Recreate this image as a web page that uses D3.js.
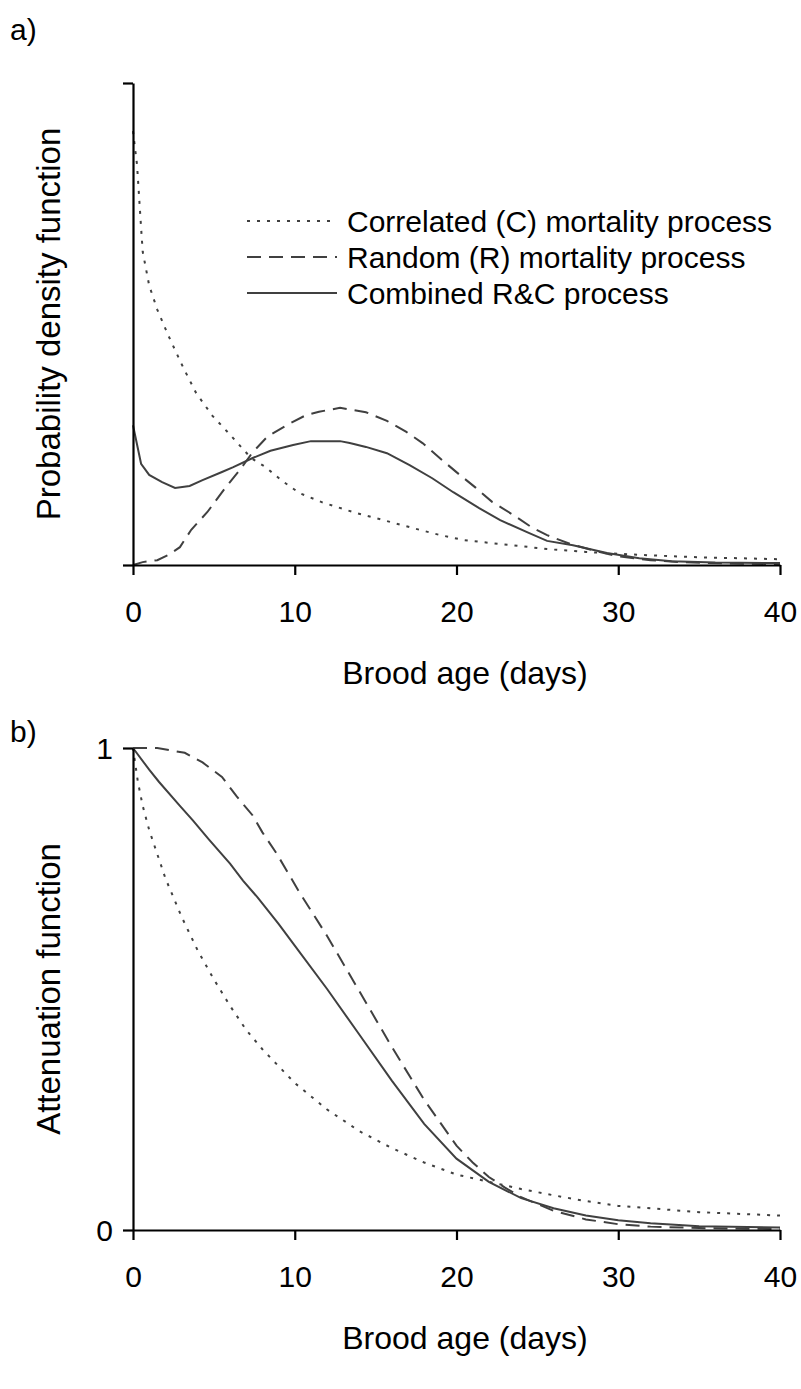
<!DOCTYPE html>
<html>
<head>
<meta charset="utf-8">
<script src="https://cdn.jsdelivr.net/npm/d3@7/dist/d3.min.js"></script>
<style>
  body { margin: 0; background: #fff; }
  text { font-family: "Liberation Sans", Arial, sans-serif; fill: #000; }
</style>
</head>
<body>
<div id="chart"></div>
<script>

// ---- data (day, value) ----
// panel a: probability density, y axis runs 0..1 (arbitrary units)
var pdfCorrelated = [[0,0.90],[0.25,0.83],[0.5,0.70],[0.6,0.65],[1,0.58],[1.5,0.53],[2.2,0.475],[3.1,0.41],[3.9,0.357],
    [4.9,0.31],[5.9,0.274],[7.3,0.222],[8.2,0.203],[9.2,0.175],[10.3,0.149],[11.7,0.13],[13.2,0.114],[13.8,0.108],
    [15.6,0.092],[17.5,0.075],[19,0.062],[20.4,0.052],[22,0.046],[23.5,0.041],[25.6,0.033],[28,0.027],[31.3,0.021],
    [35,0.016],[40,0.012]];
var pdfRandom = [[0,0.0],[0.6,0.006],[1.5,0.01],[2.2,0.021],[2.9,0.037],[3.6,0.073],[4.6,0.11],[5.7,0.16],[6.6,0.197],
    [7.4,0.234],[8.3,0.266],[9.5,0.29],[10.7,0.311],[11.5,0.318],[12.8,0.326],[14.4,0.317],[15.7,0.299],[16.9,0.276],
    [17.9,0.253],[19.1,0.218],[20.2,0.187],[21.2,0.16],[22.2,0.131],[23.5,0.104],[24.7,0.077],[25.6,0.062],[27,0.044],
    [28.5,0.03],[30,0.018],[32,0.01],[33.8,0.006],[37,0.003],[40,0.002]];
var pdfCombined = [[0,0.29],[0.5,0.21],[1,0.187],[1.8,0.172],[2.6,0.16],[3.5,0.164],[4.3,0.176],[5.5,0.193],[6.2,0.203],
    [7.4,0.222],[8.5,0.237],[9.9,0.249],[11,0.257],[12.8,0.257],[13.4,0.253],[14.4,0.245],[15.7,0.232],[17.1,0.207],
    [18.5,0.18],[19.8,0.151],[21.4,0.118],[22.7,0.093],[24.5,0.066],[25.6,0.05],[27.2,0.041],[29.3,0.025],[31.3,0.014],
    [33.3,0.008],[36,0.005],[40,0.004]];

// panel b: attenuation function, 0..1
var attCorrelated = [[0,1],[0.3,0.93],[0.6,0.88],[1,0.83],[2,0.73],[3,0.65],[4,0.58],[5,0.52],[6,0.465],[7,0.415],
    [8,0.375],[9,0.34],[10,0.305],[12,0.25],[14,0.205],[16,0.17],[18,0.14],[20,0.115],[22,0.1],[24,0.085],[26,0.072],
    [28,0.06],[30,0.05],[32,0.045],[35,0.037],[40,0.03]];
var attRandom = [[0,1],[1.5,1],[3.2,0.99],[4.3,0.97],[5.5,0.94],[6.4,0.9],[7.4,0.86],[8,0.825],[8.9,0.78],[9.6,0.74],
    [10.3,0.7],[12,0.61],[14,0.495],[16,0.38],[18,0.27],[20,0.175],[21,0.14],[22,0.11],[23,0.088],[24,0.068],[26,0.04],
    [28,0.022],[30,0.012],[32,0.007],[35,0.004],[40,0.002]];
var attCombined = [[0,1],[1,0.955],[1.6,0.93],[2.9,0.88],[3.7,0.85],[4.7,0.81],[6,0.76],[6.8,0.725],[7.7,0.69],[9,0.635],
    [10,0.59],[12,0.5],[14,0.405],[16,0.31],[18,0.22],[20,0.148],[22,0.1],[24,0.066],[26,0.045],[28,0.03],[30,0.02],
    [32,0.014],[35,0.008],[40,0.005]];

var xTicks = [0, 10, 20, 30, 40];
var legendLabels = ["Correlated (C) mortality process", "Random (R) mortality process", "Combined R&C process"];
var dashes = ["3,7", "14,8", null];

var lineColor = "#404040";

var svg = d3.select("#chart").append("svg")
    .attr("width", 801)
    .attr("height", 1389);

// draws one panel
function drawPanel(opts) {
    var x = d3.scaleLinear().domain([0, 40]).range([133, 780]);
    var y = d3.scaleLinear().domain([0, 1]).range([opts.bottom, opts.top]);

    var line = d3.line()
        .x(function(d) { return x(d[0]); })
        .y(function(d) { return y(d[1]); });

    var g = svg.append("g");

    // curves
    opts.series.forEach(function(s, i) {
        g.append("path")
            .datum(s)
            .attr("d", line)
            .attr("fill", "none")
            .attr("stroke", lineColor)
            .attr("stroke-width", 2)
            .attr("stroke-dasharray", dashes[i]);
    });

    // x axis
    var xAxis = d3.axisBottom(x)
        .tickValues(xTicks)
        .tickSize(10)
        .tickSizeOuter(0)
        .tickPadding(26);
    var gx = g.append("g")
        .attr("transform", "translate(0," + opts.bottom + ")")
        .call(xAxis);
    gx.selectAll("text").style("font-size", "30px");

    // y axis
    var yAxis = d3.axisLeft(y)
        .tickValues([0, 1])
        .tickSize(10)
        .tickSizeOuter(0)
        .tickPadding(10)
        .tickFormat(opts.yLabels ? d3.format("d") : "");
    var gy = g.append("g")
        .attr("transform", "translate(133,0)")
        .call(yAxis);
    gy.selectAll("text").style("font-size", "30px").attr("dy", "0.36em");

    g.selectAll(".domain, .tick line").attr("stroke", "#000").attr("stroke-width", 2.2);

    // titles
    g.append("text")
        .attr("x", 465)
        .attr("y", opts.bottom + 119)
        .attr("text-anchor", "middle")
        .style("font-size", "32px")
        .text("Brood age (days)");

    g.append("text")
        .attr("transform", "translate(60," + (opts.top + opts.bottom) / 2 + ") rotate(-90)")
        .attr("text-anchor", "middle")
        .style("font-size", "33px")
        .text(opts.yTitle);

    g.append("text")
        .attr("x", 10)
        .attr("y", opts.labelY)
        .style("font-size", "30px")
        .text(opts.panel);
}

drawPanel({
    top: 83, bottom: 565, labelY: 40, panel: "a)",
    yTitle: "Probability density function", yLabels: false,
    series: [pdfCorrelated, pdfRandom, pdfCombined]
});

drawPanel({
    top: 748, bottom: 1230, labelY: 742, panel: "b)",
    yTitle: "Attenuation function", yLabels: true,
    series: [attCorrelated, attRandom, attCombined]
});

// legend in panel a
var legend = svg.append("g");
legendLabels.forEach(function(name, i) {
    var ly = 221 + i * 36;
    legend.append("line")
        .attr("x1", 247).attr("x2", 337)
        .attr("y1", ly).attr("y2", ly)
        .attr("stroke", lineColor)
        .attr("stroke-width", 2)
        .attr("stroke-dasharray", dashes[i]);
    legend.append("text")
        .attr("x", 347)
        .attr("y", ly + 11)
        .style("font-size", "30px")
        .text(name);
});

</script>
</body>
</html>
